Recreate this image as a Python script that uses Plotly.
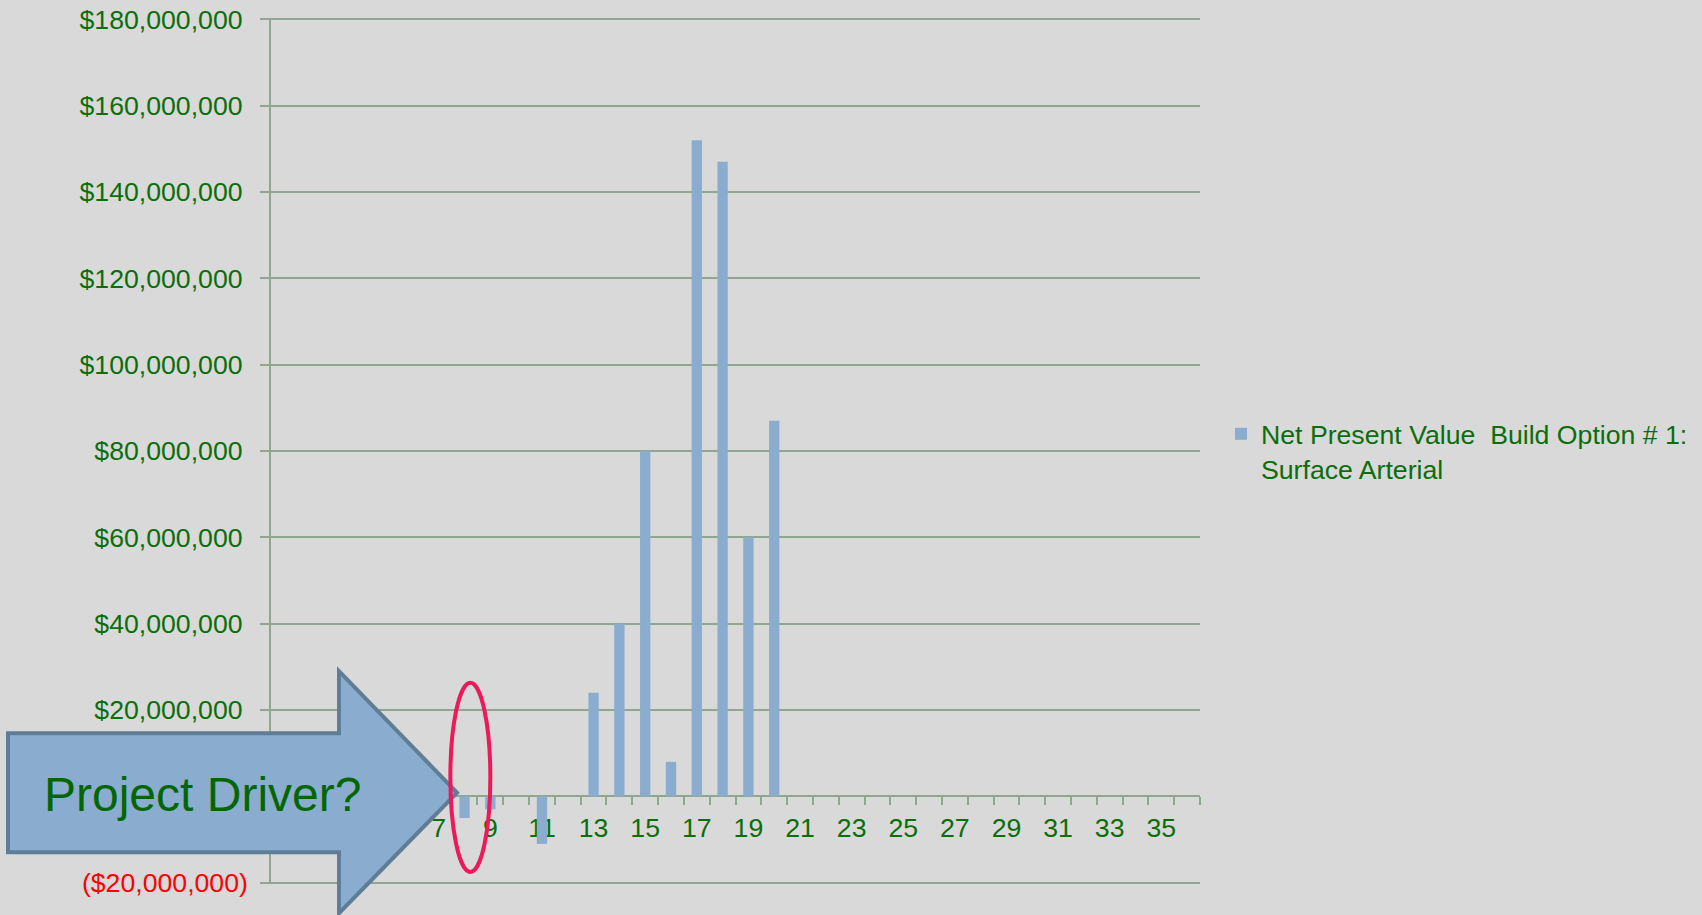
import plotly.graph_objects as go

# Period numbers along the horizontal axis
periods = list(range(1, 37))

# Net present value per period (USD)
npv_values = [
    0, 0, 0, 0, 0, 0, 0, -5_000_000, -3_000_000, 0,
    -11_000_000, 0, 24_000_000, 40_000_000, 80_000_000, 8_000_000,
    152_000_000, 147_000_000, 60_000_000, 87_000_000,
    0, 0, 0, 0, 0, 0, 0, 0, 0, 0, 0, 0, 0, 0, 0, 0,
]

series_name = "Net Present Value\u00a0 Build Option # 1:<br>Surface Arterial"

# Axis ticks (labels that sit under the callout arrow are left out)
x_tick_values = [7, 9, 11, 13, 15, 17, 19, 21, 23, 25, 27, 29, 31, 33, 35]
x_tick_labels = ["7", "9", "11", "13", "15", "17", "19", "21",
                 "23", "25", "27", "29", "31", "33", "35"]
y_tick_values = [-20_000_000, 20_000_000, 40_000_000, 60_000_000, 80_000_000,
                 100_000_000, 120_000_000, 140_000_000, 160_000_000, 180_000_000]
y_tick_labels = ["<span style='color:#FF0000'>($20,000,000)</span>",
                 "$20,000,000\u2009", "$40,000,000\u2009", "$60,000,000\u2009",
                 "$80,000,000\u2009", "$100,000,000\u2009", "$120,000,000\u2009",
                 "$140,000,000\u2009", "$160,000,000\u2009", "$180,000,000\u2009"]

# Value range shown; a small pad keeps the edge gridlines visible
Y_MIN, Y_MAX, Y_PAD = -20_000_000, 180_000_000, 300_000

# Page / plot-area geometry (pixels)
W, H = 1702, 915
PX_PER_USD = 863 / (Y_MAX - Y_MIN)
PAD_PX = Y_PAD * PX_PER_USD
ML, MR = 271, 502
MT, MB = 19.5 - PAD_PX, 32.5 - PAD_PX
PW, PH = W - ML - MR, H - MT - MB

def px_x(px):
    return (px - ML) / PW

def px_y(py):
    return (H - MB - py) / PH

GREEN = "#0A6E0A"
GRID = "#8FA68F"
BAR = "#8AADCF"
FONT = "Liberation Sans, Arial, sans-serif"

fig = go.Figure()
fig.add_trace(go.Bar(
    x=periods, y=npv_values, name=series_name,
    marker=dict(color=BAR, line=dict(width=0)),
    showlegend=True,
))

# Block arrow pointing at the early negative periods
arrow_pts = [(8, 733), (339, 733), (339, 671), (457, 792.5), (339, 913),
             (339, 852), (8, 852)]
path = "M " + " L ".join(f"{px_x(x):.5f},{px_y(y):.5f}" for x, y in arrow_pts) + " Z"
fig.add_shape(type="path", path=path, xref="paper", yref="paper",
              fillcolor="#8AADCF", line=dict(color="#5F7D96", width=4), layer="above")

# Highlight ring around period 8
fig.add_shape(type="circle", xref="x", yref="y",
              x0=7.45, x1=9.0, y0=-17_500_000, y1=26_300_000,
              line=dict(color="#EC1A5A", width=4), layer="above")

fig.add_annotation(text="Project Driver?", xref="paper", yref="paper",
                   x=px_x(202), y=px_y(794), xanchor="center", yanchor="middle",
                   showarrow=False, font=dict(family=FONT, size=48, color="#036603"))

fig.update_layout(
    width=W, height=H, autosize=False,
    margin=dict(l=ML, r=MR, t=MT, b=MB, pad=0, autoexpand=False),
    paper_bgcolor="#D9D9D9", plot_bgcolor="#D9D9D9",
    font=dict(family=FONT, size=26.67, color=GREEN),
    bargap=0.6,
    legend=dict(x=px_x(1221), y=px_y(410), xanchor="left", yanchor="top",
                valign="top", bgcolor="rgba(0,0,0,0)",
                font=dict(family=FONT, size=26.67, color=GREEN)),
    xaxis=dict(
        range=[0.5, 36.5], anchor="free", layer="below traces",
        position=(0 - (Y_MIN - Y_PAD)) / (Y_MAX - Y_MIN + 2 * Y_PAD),
        tickmode="array", tickvals=x_tick_values, ticktext=x_tick_labels,
        ticks="", showgrid=False, zeroline=False, automargin=False,
        showline=True, linecolor=GRID, linewidth=1.5,
        minor=dict(ticks="outside", tick0=0.5, dtick=1, ticklen=8,
                   tickcolor=GRID, tickwidth=1.5, showgrid=False),
        ticklabelstandoff=8,
        tickfont=dict(family=FONT, size=26.67, color=GREEN),
    ),
    yaxis=dict(
        range=[Y_MIN - Y_PAD, Y_MAX + Y_PAD], automargin=False,
        tickmode="array", tickvals=y_tick_values, ticktext=y_tick_labels,
        ticks="outside", ticklen=9, tickcolor=GRID, tickwidth=1.5,
        showgrid=True, gridcolor=GRID, gridwidth=1.5,
        zeroline=False, showline=True, linecolor=GRID, linewidth=1.5,
        ticklabelstandoff=7,
        tickfont=dict(family=FONT, size=26.67, color=GREEN),
    ),
)

fig.write_html("out.html", config={"displayModeBar": False})
